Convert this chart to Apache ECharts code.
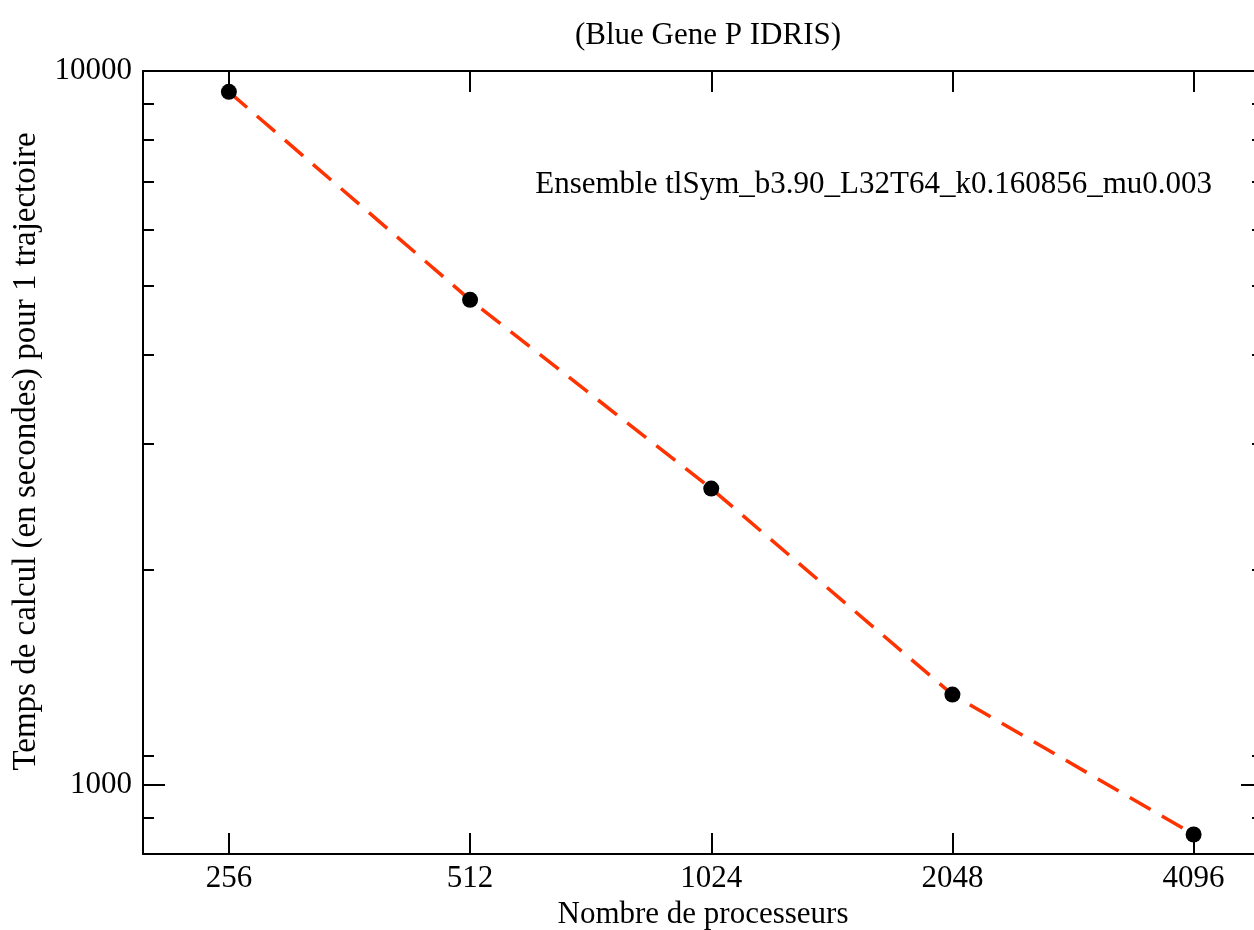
<!DOCTYPE html>
<html>
<head>
<meta charset="utf-8">
<title>Blue Gene P IDRIS</title>
<script src="https://cdn.jsdelivr.net/npm/echarts@6/dist/echarts.min.js"></script>
<style>
  html, body { margin: 0; padding: 0; background: #ffffff; }
  #chart { width: 1254px; height: 930px; }
</style>
</head>
<body>
<div id="chart"></div>
<script>
// Number of processors and wall time (s) per trajectory
const processors = [256, 512, 1024, 2048, 4096];
const seconds = [9350, 4780, 2600, 1338, 852];

// Tick positions
const xTicks = [256, 512, 1024, 2048, 4096];
const yMajorTicks = [1000, 10000];
const yMinorTicks = [900, 1100, 2000, 3000, 4000, 5000, 6000, 7000, 8000, 9000];

const seriesName = 'Ensemble tlSym_b3.90_L32T64_k0.160856_mu0.003';
const FONT = '"Liberation Serif", "DejaVu Serif", serif';
const FS = 31;
const INK = '#000000';

const plain = v => String(Math.round(v));

const chart = echarts.init(document.getElementById('chart'), null, { renderer: 'canvas' });

function yAxisDef(position, ticks, length, withLabels, withLine) {
  return {
    type: 'log',
    logBase: 10,
    min: 800,
    max: 10000,
    position: position,
    splitLine: { show: false },
    axisLine: { show: withLine, lineStyle: { color: INK, width: 2 } },
    axisTick: {
      show: true, inside: true, length: length,
      customValues: ticks,
      lineStyle: { color: INK, width: 2 }
    },
    axisLabel: {
      show: withLabels,
      customValues: ticks,
      formatter: plain,
      margin: 11,
      fontFamily: FONT, fontSize: FS, color: INK
    }
  };
}

const option = {
  backgroundColor: '#ffffff',
  animation: false,
  title: {
    text: '(Blue Gene P IDRIS)',
    left: 703,
    textAlign: 'center',
    top: 15,
    textStyle: { fontFamily: FONT, fontSize: FS, fontWeight: 'normal', color: INK }
  },
  legend: {
    data: [{ name: seriesName, icon: 'none' }],
    right: 37,
    top: 164,
    itemWidth: 0,
    itemHeight: 0,
    textStyle: { fontFamily: FONT, fontSize: FS, color: INK }
  },
  grid: {
    left: 143, width: 1120, top: 71, bottom: 76,
    containLabel: false,
    outerBoundsMode: 'none'
  },
  xAxis: [
    {
      type: 'log', logBase: 2, min: 200, max: 5000, position: 'bottom',
      name: 'Nombre de processeurs',
      nameLocation: 'middle', nameGap: 40,
      nameTextStyle: { fontFamily: FONT, fontSize: FS, color: INK },
      splitLine: { show: false },
      axisLine: { show: true, lineStyle: { color: INK, width: 2 } },
      axisTick: { show: true, inside: true, length: 21, customValues: xTicks, lineStyle: { color: INK, width: 2 } },
      axisLabel: {
        customValues: xTicks, margin: 9, formatter: plain,
        fontFamily: FONT, fontSize: FS, color: INK
      }
    },
    {
      type: 'log', logBase: 2, min: 200, max: 5000, position: 'top',
      splitLine: { show: false },
      axisLine: { show: true, lineStyle: { color: INK, width: 2 } },
      axisTick: { show: true, inside: true, length: 21, customValues: xTicks, lineStyle: { color: INK, width: 2 } },
      axisLabel: { show: false }
    }
  ],
  yAxis: [
    Object.assign(yAxisDef('left', yMajorTicks, 22, true, true), {
      name: 'Temps de calcul (en secondes) pour 1 trajectoire',
      nameLocation: 'middle', nameGap: 100,
      nameTextStyle: { fontFamily: FONT, fontSize: 33, color: INK, padding: [0, 0, 0, 22] }
    }),
    yAxisDef('left', yMinorTicks, 11, false, false),
    yAxisDef('right', yMajorTicks, 22, false, true),
    yAxisDef('right', yMinorTicks, 11, false, false)
  ],
  series: [
    {
      name: seriesName,
      type: 'line',
      xAxisIndex: 0,
      yAxisIndex: 0,
      data: processors.map((p, i) => [p, seconds[i]]),
      lineStyle: { color: '#ff3300', width: 3.5, type: [24, 13] },
      itemStyle: { color: INK, borderWidth: 0 },
      symbol: 'circle',
      symbolSize: 16,
      showSymbol: true,
      z: 3
    }
  ]
};

chart.setOption(option);
</script>
</body>
</html>
